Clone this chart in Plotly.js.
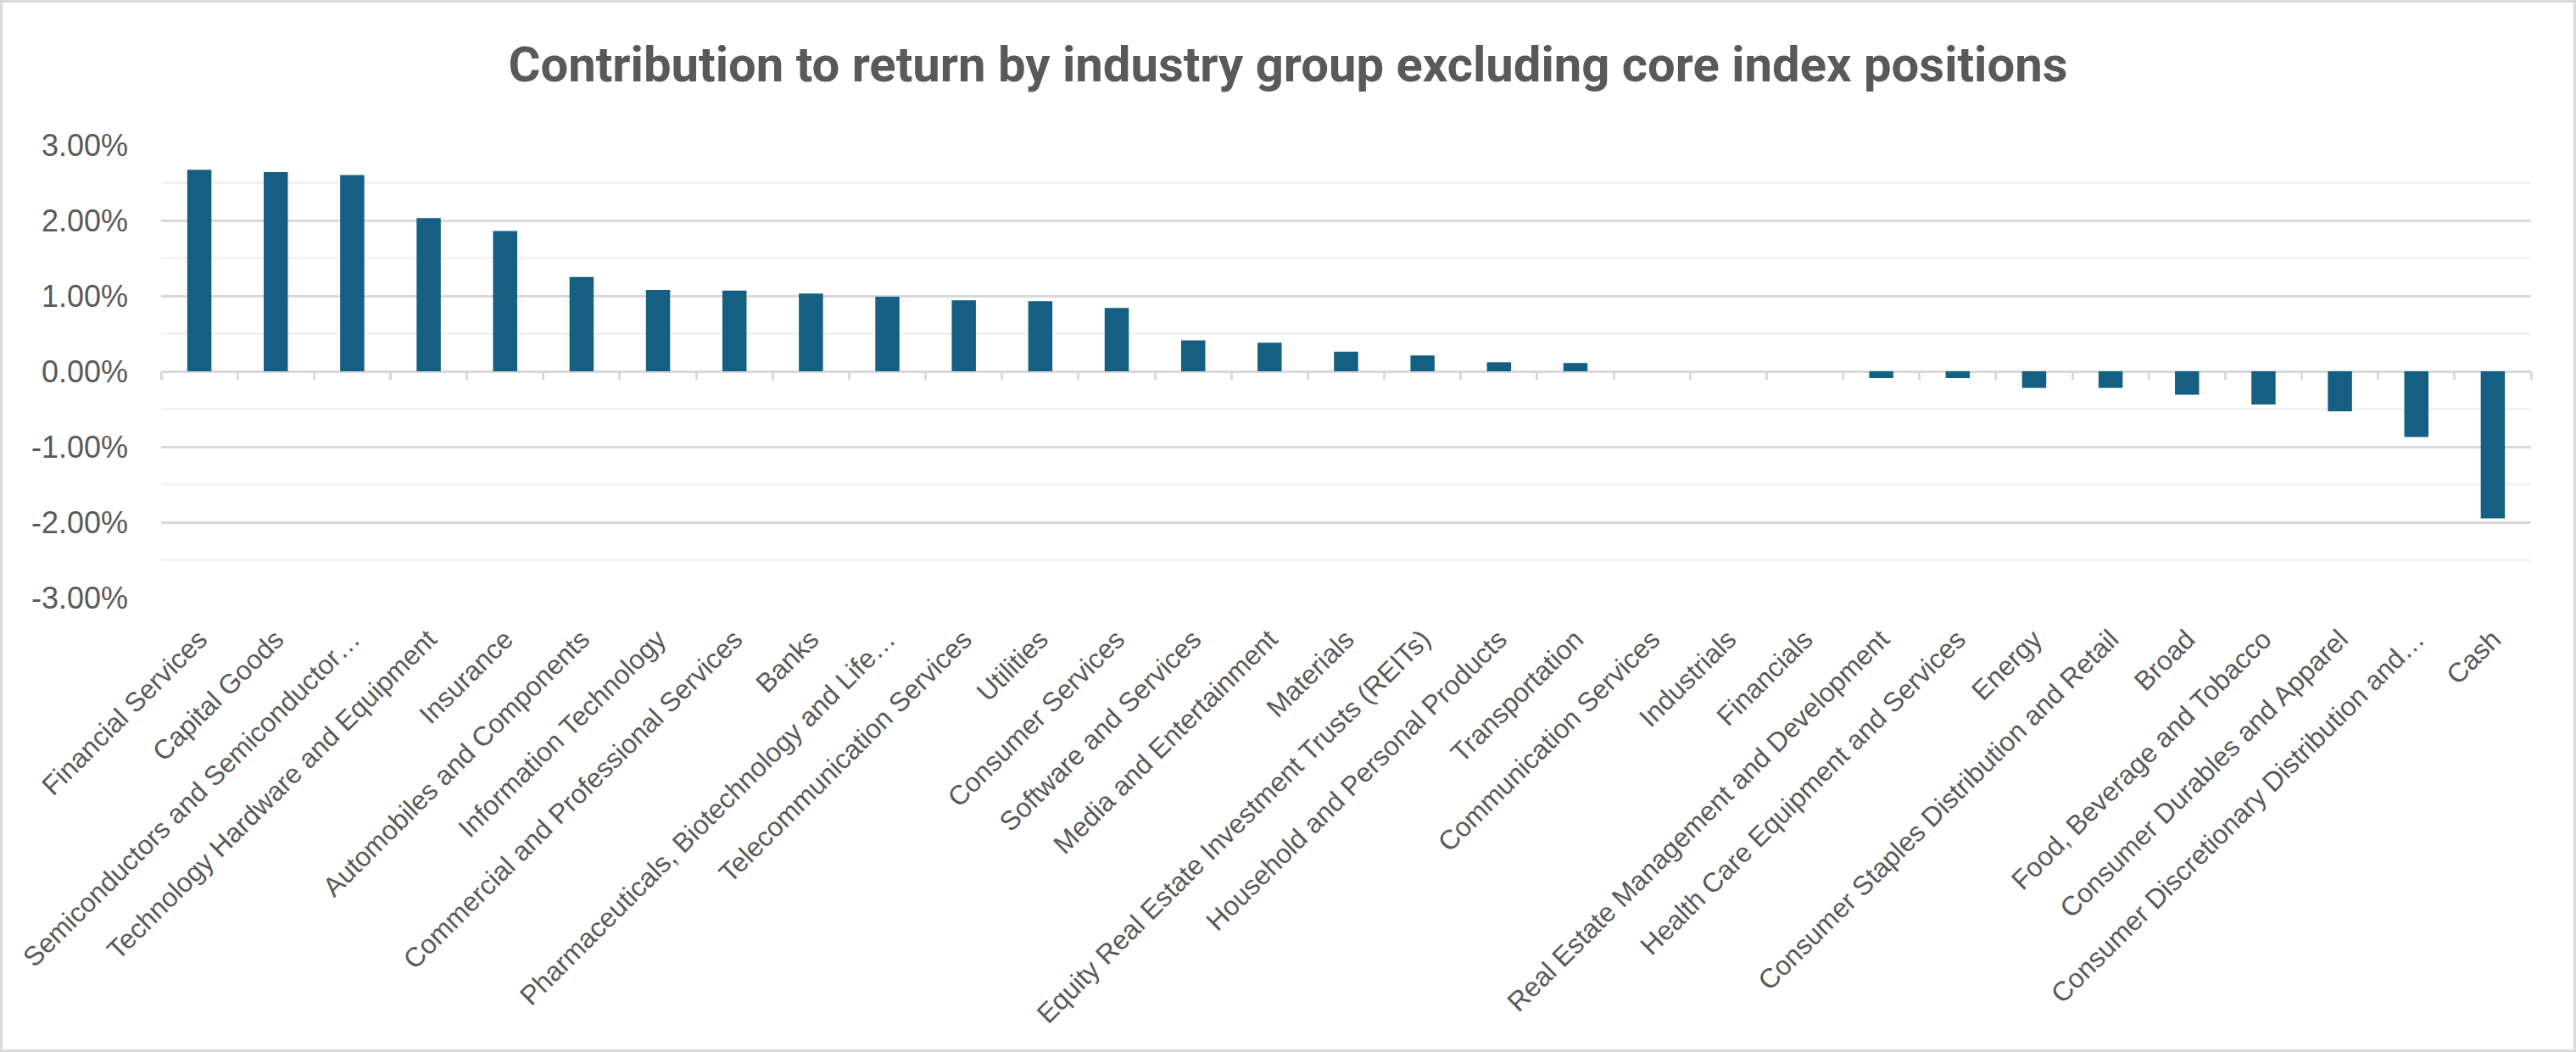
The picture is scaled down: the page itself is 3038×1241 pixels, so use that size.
<!DOCTYPE html>
<html>
<head>
<meta charset="utf-8">
<script src="https://cdn.plot.ly/plotly-3.0.1.min.js"></script>
<style>
  html, body { margin: 0; padding: 0; background: #ffffff; }
  #frame { width: 3038px; height: 1241px; box-sizing: border-box; border: 3px solid #d9d9d9; background: #ffffff; }
  #chart { width: 3032px; height: 1235px; }
</style>
</head>
<body>
<div id="frame"><div id="chart"></div></div>
<script>
const chartTitle = "Contribution to return by industry group excluding core index positions";

const categories = [
  "Financial Services",
  "Capital Goods",
  "Semiconductors and Semiconductor\u2026",
  "Technology Hardware and Equipment",
  "Insurance",
  "Automobiles and Components",
  "Information Technology",
  "Commercial and Professional Services",
  "Banks",
  "Pharmaceuticals, Biotechnology and Life\u2026",
  "Telecommunication Services",
  "Utilities",
  "Consumer Services",
  "Software and Services",
  "Media and Entertainment",
  "Materials",
  "Equity Real Estate Investment Trusts (REITs)",
  "Household and Personal Products",
  "Transportation",
  "Communication Services",
  "Industrials",
  "Financials",
  "Real Estate Management and Development",
  "Health Care Equipment and Services",
  "Energy",
  "Consumer Staples Distribution and Retail",
  "Broad",
  "Food, Beverage and Tobacco",
  "Consumer Durables and Apparel",
  "Consumer Discretionary Distribution and\u2026",
  "Cash"
];

// contribution to return, in percent
const contribution = [
  2.67, 2.64, 2.60, 2.03, 1.86, 1.25, 1.08, 1.07, 1.03, 0.99,
  0.94, 0.93, 0.84, 0.41, 0.38, 0.26, 0.21, 0.12, 0.11, 0.00,
  0.00, 0.00, -0.09, -0.09, -0.22, -0.22, -0.31, -0.44, -0.53, -0.87,
  -1.95
];

const yTickValues = [-3, -2, -1, 0, 1, 2, 3];
const yTickLabels = yTickValues.map(v => v.toFixed(2) + "%");

const n = categories.length;
const boundaryTicks = [];
for (let i = 0; i <= n; i++) boundaryTicks.push(i - 0.5);

const textColor = "#595959";
const majorGrid = "#d9d9d9";
const minorGrid = "#f2f2f2";

const traces = [
  {
    type: "bar",
    x: categories,
    y: contribution,
    marker: { color: "#156082", line: { width: 0 } },
    hoverinfo: "x+y",
    xaxis: "x",
    yaxis: "y"
  },
  {
    // invisible helper so the boundary-tick axis is drawn
    type: "scatter",
    mode: "none",
    x: [boundaryTicks[0], boundaryTicks[n]],
    y: [0, 0],
    hoverinfo: "skip",
    showlegend: false,
    xaxis: "x2",
    yaxis: "y"
  }
];

const layout = {
  width: 3032,
  height: 1235,
  paper_bgcolor: "#ffffff",
  plot_bgcolor: "#ffffff",
  margin: { l: 187, r: 50, t: 168, b: 533 },
  showlegend: false,
  bargap: 0.684,
  title: {
    text: chartTitle,
    font: { family: "Roboto, 'Liberation Sans', sans-serif", size: 58, color: textColor, weight: 700 },
    x: 0.5,
    xanchor: "center",
    xref: "container",
    yref: "container",
    y: 1 - 73 / 1235,
    yanchor: "middle"
  },
  xaxis: {
    type: "category",
    categoryorder: "array",
    categoryarray: categories,
    range: [-0.5, n - 0.5],
    tickangle: -45,
    ticks: "",
    ticklabelstandoff: 23,
    showline: false,
    showgrid: false,
    zeroline: false,
    tickfont: { family: "'Liberation Sans', Arial, sans-serif", size: 32, color: textColor },
    automargin: false,
    fixedrange: true
  },
  xaxis2: {
    overlaying: "x",
    anchor: "free",
    position: 0.5,
    side: "bottom",
    range: [-0.5, n - 0.5],
    tickmode: "array",
    tickvals: boundaryTicks,
    showticklabels: false,
    ticks: "outside",
    ticklen: 9,
    tickwidth: 3,
    tickcolor: majorGrid,
    showline: false,
    showgrid: false,
    zeroline: false,
    fixedrange: true
  },
  yaxis: {
    range: [-3, 3],
    tickmode: "array",
    tickvals: yTickValues,
    ticktext: yTickLabels,
    showgrid: true,
    gridcolor: majorGrid,
    gridwidth: 3,
    zeroline: true,
    zerolinecolor: majorGrid,
    zerolinewidth: 3,
    showline: false,
    ticks: "",
    ticklabelstandoff: 38,
    tickfont: { family: "'Liberation Sans', Arial, sans-serif", size: 36, color: textColor },
    minor: { dtick: 0.5, tick0: 0.5, showgrid: true, gridcolor: minorGrid, gridwidth: 3, ticks: "" },
    automargin: false,
    fixedrange: true
  }
};

Plotly.newPlot("chart", traces, layout, { displayModeBar: false, staticPlot: true });
</script>
</body>
</html>
